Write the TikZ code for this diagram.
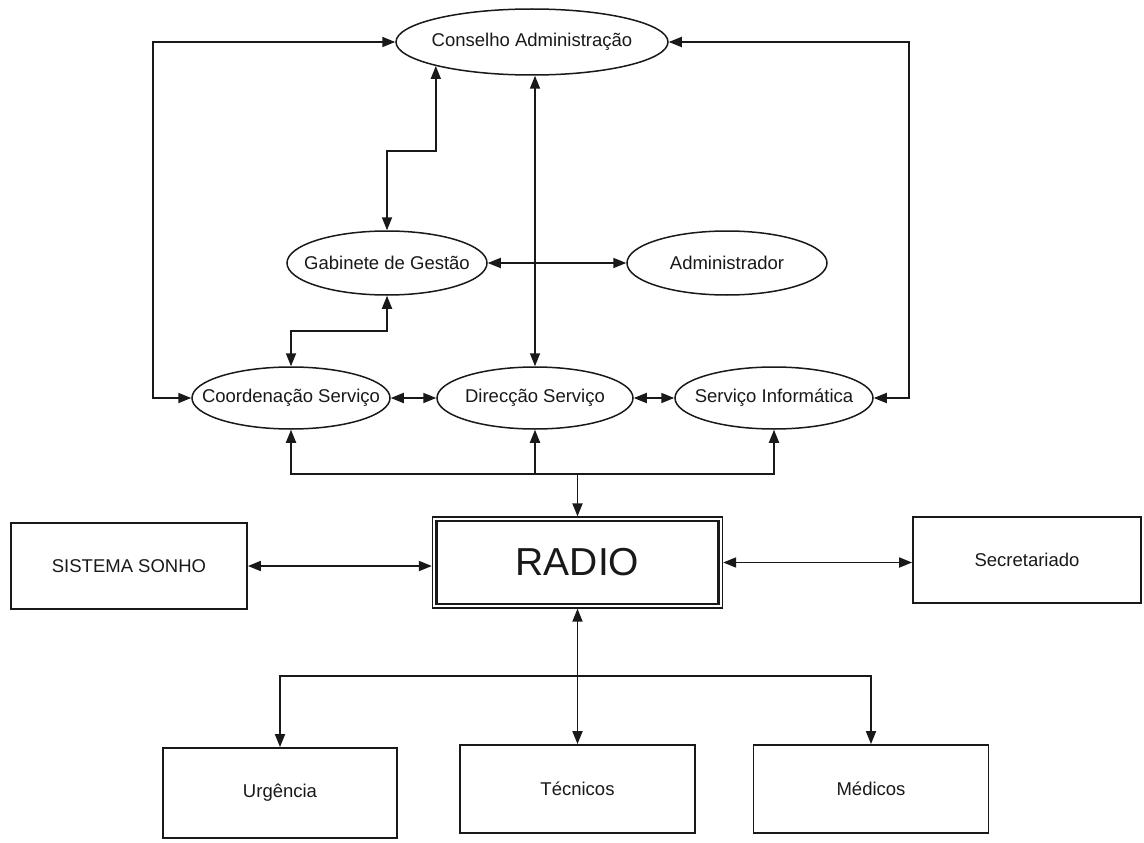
\documentclass[tikz,border=0pt]{standalone}
\usepackage{fontspec}
\setmainfont{Liberation Sans}
\usetikzlibrary{shapes.geometric,arrows.meta,calc}
\begin{document}
\begin{tikzpicture}[x=1pt,y=-1pt,
  >={Triangle[length=13pt,width=10pt]},
  oval/.style={ellipse,draw=black!90,line width=1.5pt,inner sep=0pt},
  lbl/.style={font=\fontsize{18.5}{22}\selectfont,text=black!90,inner sep=0pt},
  box/.style={rectangle,draw=black!90,line width=1.8pt,inner sep=0pt,
              font=\fontsize{18.5}{22}\selectfont,text=black!90},
  link/.style={line width=1.8pt,draw=black!90},
]
% page
\fill[white] (0,0) rectangle (1144,843);
\useasboundingbox (0,0) rectangle (1144,843);

% management units (ellipses) and their names
\node[oval,minimum width=272pt,minimum height=66pt] (cons) at (532,42) {};
\node[lbl] (consT) at (cons) {Conselho Administração};
\node[oval,minimum width=200pt,minimum height=64pt] (gab) at (387,263) {};
\node[lbl] (gabT) at (gab) {Gabinete de Gestão};
\node[oval,minimum width=200pt,minimum height=64pt] (adm) at (727,263) {};
\node[lbl] (admT) at (adm) {Administrador};
\node[oval,minimum width=198pt,minimum height=62pt] (coo) at (291,398) {};
\node[lbl] (cooT) at (coo) {Coordenação Serviço};
\node[oval,minimum width=196pt,minimum height=62pt] (dir) at (535,398) {};
\node[lbl] (dirT) at (dir) {Direcção Serviço};
\node[oval,minimum width=198pt,minimum height=62pt] (si) at (774,398) {};
\node[lbl] (siT) at (si) {Serviço Informática};

% central system and the surrounding boxes
\node[box,minimum width=290pt,minimum height=91pt,line width=1.3pt,
      font=\fontsize{39}{44}\selectfont] (radio) at (577.5,562.5) {RADIO};
\draw[line width=2.4pt,draw=black!90]
  ($(radio.north west)+(4.5,4.5)$) rectangle ($(radio.south east)+(-4.5,-4.5)$);
\node[box,minimum width=236pt,minimum height=86pt] (sonho) at (129,566) {SISTEMA SONHO};
\node[box,minimum width=228pt,minimum height=86pt] (sec) at (1027,560) {Secretariado};
\node[box,minimum width=234pt,minimum height=90pt] (urg) at (280,793) {Urgência};
\node[box,minimum width=235pt,minimum height=88pt] (tec) at (577.5,789) {Técnicos};
\node[box,minimum width=235pt,minimum height=88pt] (med) at (871,789) {Médicos};

% routing points
\coordinate (lb) at (153,398);
\coordinate (rb) at (909,398);
\coordinate (k1) at (387,151);
\coordinate (ub) at (0,474);
\coordinate (lbus) at (0,676);

% connectors between the management units
\draw[link,<->] (cons.west) -| (lb) -- (coo.west);
\draw[link,<->] (cons.east) -| (rb) -- (si.east);
\draw[link,<->] (cons.194.2) |- (k1) -- (gab.north);
\draw[link,<->] (cons.south -| dir.north) -- (dir.north);
\draw[link,<->] (gab.east) -- (gab.east -| adm.west);
\draw[link,<->] (gab.south) |- ($(gab.south)!0.5!(coo.north)$) -| (coo.north);
\draw[link,<->] (coo.east) -- (dir.west);
\draw[link,<->] (dir.east) -- (si.west);

% upper bus feeding RADIO
\draw[link,<->] (coo.south) -- (coo.south |- ub) -- (si.south |- ub) -- (si.south);
\draw[link,->] (dir.south |- ub) -- (dir.south);
\draw[link,->] (radio.north |- ub) -- (radio.north);

% side links
\draw[link,<->] (sonho.east) -- (sonho.east -| radio.west);
\draw[link,<->] (radio.east) -- (radio.east -| sec.west);

% lower bus to the staff groups
\draw[link,<->] (urg.north) -- (urg.north |- lbus) -- (med.north |- lbus) -- (med.north);
\draw[link,<->] (radio.south) -- (tec.north);
\end{tikzpicture}
\end{document}
